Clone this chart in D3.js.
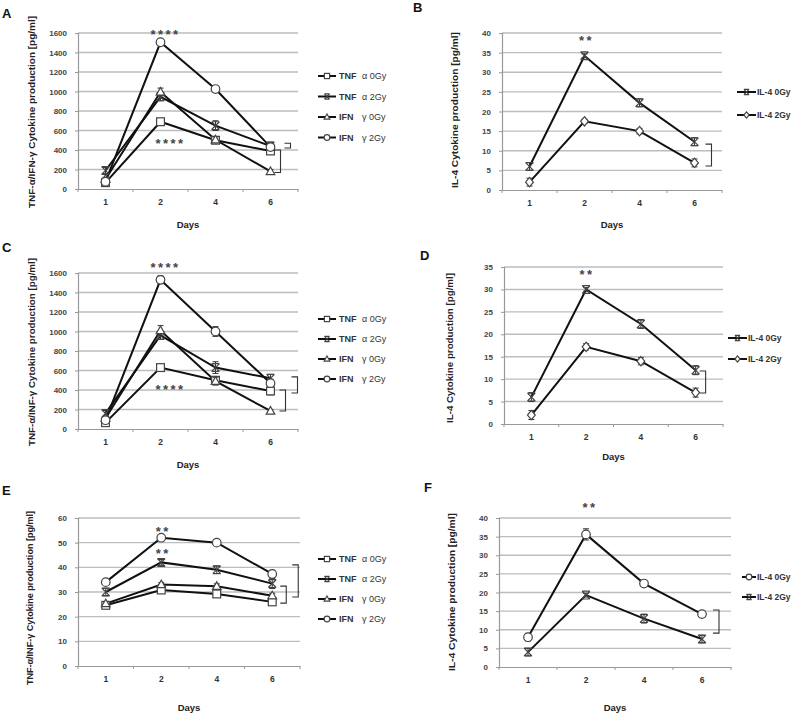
<!DOCTYPE html>
<html><head><meta charset="utf-8">
<script src="https://cdn.jsdelivr.net/npm/d3@7"></script>
<style>
body{margin:0;background:#fff;}
text{font-family:"Liberation Sans",Arial,sans-serif;}
</style></head>
<body><svg id="c" width="800" height="717"></svg>
<script>
// ---------- data ----------
const days = ["1", "2", "4", "6"];

// Panel A (TNF-α / IFN-γ)
const aTnf0 = [65, 690, 500, 390];
const aTnf2 = [190, 945, 650, 440];
const aIfn0 = [100, 995, 505, 180];
const aIfn2 = [75, 1505, 1025, 430];
const aTnf0Err = [20, 25, 30, 30];
const aTnf2Err = [30, 40, 50, 40];
const aIfn0Err = [20, 40, 30, 20];
const aIfn2Err = [20, 30, 30, 30];

// Panel B (IL-4)
const bIl0 = [6, 34.2, 22.2, 12.3];
const bIl2 = [2, 17.5, 15, 6.9];
const bIl0Err = [1, 0.5, 1, 1];
const bIl2Err = [1, 0.5, 0.7, 1];

// Panel C
const cTnf0 = [65, 630, 500, 390];
const cTnf2 = [160, 960, 630, 520];
const cIfn0 = [110, 1010, 490, 185];
const cIfn2 = [90, 1530, 1000, 470];
const cTnf0Err = [20, 25, 30, 40];
const cTnf2Err = [30, 40, 60, 40];
const cIfn0Err = [20, 50, 40, 15];
const cIfn2Err = [20, 40, 50, 40];

// Panel D
const dIl0 = [6, 30, 22.3, 12];
const dIl2 = [2, 17.2, 14, 7];
const dIl0Err = [1, 0.4, 1, 1];
const dIl2Err = [1, 0.7, 0.8, 1];

// Panel E
const eTnf0 = [24.6, 30.8, 29.2, 26];
const eTnf2 = [30, 42, 39, 33.4];
const eIfn0 = [25.3, 33, 32.3, 28.5];
const eIfn2 = [34, 52, 50, 37.3];
const eTnf0Err = [0.8, 0.8, 1, 1];
const eTnf2Err = [1.5, 1.2, 1.5, 2];
const eIfn0Err = [0.8, 0.8, 1, 1];
const eIfn2Err = [0.8, 0.5, 0.5, 1.5];

// Panel F
const fIl0 = [8, 35.6, 22.4, 14.2];
const fIl2 = [4, 19.3, 13, 7.5];
const fIl0Err = [1, 1.5, 0.5, 0.8];
const fIl2Err = [1, 0.5, 1.2, 1];

const tnfTitleA = "TNF-α/IFN-γ Cytokine production [pg/ml]";
const tnfTitleC = "TNF-α/INF-γ Cytokine production [pg/ml]";
const il4Title = "IL-4 Cytokine production [pg/ml]";
const tnfLegend = [["TNF", "α 0Gy"], ["TNF", "α 2Gy"], ["IFN", "γ 0Gy"], ["IFN", "γ 2Gy"]];
const il4Legend = ["IL-4 0Gy", "IL-4 2Gy"];

// ---------- drawing ----------
const svg = d3.select("#c");

function marker(g, type, cx, cy, s) {
  let el;
  if (type === "square") el = g.append("rect").attr("x", cx - s).attr("y", cy - s).attr("width", 2 * s).attr("height", 2 * s);
  else if (type === "circle") el = g.append("circle").attr("cx", cx).attr("cy", cy).attr("r", s * 1.1);
  else if (type === "triangle") el = g.append("path").attr("d", `M${cx},${cy - s * 1.15}L${cx + s * 1.1},${cy + s * 0.8}L${cx - s * 1.1},${cy + s * 0.8}Z`);
  else if (type === "diamond") el = g.append("path").attr("d", `M${cx},${cy - s * 1.2}L${cx + s},${cy}L${cx},${cy + s * 1.2}L${cx - s},${cy}Z`);
  else if (type === "x") el = g.append("path").attr("d", `M${cx - s},${cy - s}L${cx + s},${cy + s}M${cx + s},${cy - s}L${cx - s},${cy + s}M${cx - s},${cy - s}L${cx + s},${cy - s}M${cx - s},${cy + s}L${cx + s},${cy + s}`);
  el.attr("stroke", "#444").attr("stroke-width", 1.2).attr("fill", type === "x" ? "none" : "#fff");
}

function drawPanel(cfg) {
  const g = svg.append("g");
  const x = d3.scaleBand().domain(days).range([cfg.x0, cfg.x1]);
  const y = d3.scaleLinear().domain([0, cfg.yMax]).range([cfg.yBot, cfg.yTop]);
  const ticks = d3.range(0, cfg.yMax + cfg.yStep / 2, cfg.yStep);
  const cx = d => x(d) + x.bandwidth() / 2;

  g.selectAll(".grid").data(ticks.filter(t => t > 0)).join("line")
    .attr("x1", cfg.x0).attr("x2", cfg.x1).attr("y1", d => y(d)).attr("y2", d => y(d))
    .attr("stroke", "#bdbdbd").attr("stroke-width", 1.4);

  const ya = g.append("g").attr("transform", `translate(${cfg.x0},0)`)
    .call(d3.axisLeft(y).tickValues(ticks).tickSize(3).tickPadding(8).tickFormat(d3.format("d")));
  ya.select(".domain").attr("stroke", "#999").attr("stroke-width", 1.2);
  ya.selectAll(".tick line").attr("stroke", "#999");
  ya.selectAll("text").attr("font-size", 8).attr("font-weight", "bold").attr("fill", "#444")
    .style("font-family", "Liberation Sans, Arial, sans-serif");

  const xa = g.append("g").attr("transform", `translate(0,${cfg.yBot})`)
    .call(d3.axisBottom(x).tickSize(0).tickPadding(10));
  xa.select(".domain").attr("stroke", "#999").attr("stroke-width", 1.2);
  xa.selectAll("text").attr("font-size", 8.5).attr("font-weight", "bold").attr("fill", "#333")
    .style("font-family", "Liberation Sans, Arial, sans-serif");
  const bounds = days.map(d => x(d)).concat([cfg.x1]);
  g.selectAll(".xt").data(bounds).join("line")
    .attr("x1", d => d).attr("x2", d => d).attr("y1", cfg.yBot).attr("y2", cfg.yBot + 3)
    .attr("stroke", "#999");

  const line = d3.line().x((v, i) => cx(days[i])).y(v => y(v));
  cfg.series.forEach(s => {
    g.append("path").datum(s.values).attr("d", line).attr("fill", "none")
      .attr("stroke", "#111").attr("stroke-width", 2);
  });
  cfg.series.forEach(s => {
    s.values.forEach((v, i) => {
      const px = cx(days[i]);
      const e = s.errs[i];
      g.append("path").attr("d",
        `M${px},${y(v + e)}L${px},${y(v - e)}M${px - 3},${y(v + e)}L${px + 3},${y(v + e)}M${px - 3},${y(v - e)}L${px + 3},${y(v - e)}`)
        .attr("stroke", "#333").attr("stroke-width", 1).attr("fill", "none");
      marker(g, s.marker, px, y(v), 3.9);
    });
  });

  cfg.stars.forEach(st => {
    g.append("text").attr("x", cx("2") + st.dx).attr("y", y(st.value)).attr("dy", "0.6em")
      .attr("text-anchor", "middle").attr("font-size", 13).attr("font-weight", "bold")
      .attr("letter-spacing", 2.5).attr("fill", "#444").text(st.text);
  });

  cfg.brackets.forEach(b => {
    const bx = cx("6") + b.dx;
    g.append("path").attr("d", `M${bx - 6},${y(b.v1)}L${bx},${y(b.v1)}L${bx},${y(b.v2)}L${bx - 6},${y(b.v2)}`)
      .attr("fill", "none").attr("stroke", "#333").attr("stroke-width", 1.1);
  });

  g.append("text").attr("transform", `translate(${cfg.titleX},${cfg.titleY}) rotate(-90)`)
    .attr("text-anchor", "middle").attr("dy", "0.35em").attr("font-size", 9.5).attr("font-weight", "bold")
    .attr("fill", "#222").attr("textLength", cfg.titleLen).attr("lengthAdjust", "spacingAndGlyphs").text(cfg.title);
  g.append("text").attr("x", (cfg.x0 + cfg.x1) / 2).attr("y", cfg.daysY).attr("text-anchor", "middle")
    .attr("font-size", 9.5).attr("font-weight", "bold").attr("fill", "#222").text("Days");

  g.append("text").attr("x", cfg.labelX).attr("y", cfg.labelY).attr("font-size", 13)
    .attr("font-weight", "bold").attr("fill", "#111").text(cfg.label);

  cfg.series.forEach((s, i) => {
    const ly = cfg.legY + i * cfg.legDy;
    g.append("line").attr("x1", cfg.legX).attr("x2", cfg.legX + cfg.legLen).attr("y1", ly).attr("y2", ly)
      .attr("stroke", "#111").attr("stroke-width", 2);
    marker(g, s.marker, cfg.legX + cfg.legLen / 2, ly, 2.6);
    if (Array.isArray(s.name)) {
      g.append("text").attr("x", cfg.legX + cfg.legLen + 3).attr("y", ly).attr("dy", "0.35em")
        .attr("font-size", 9).attr("font-weight", "bold").attr("fill", "#333").text(s.name[0]);
      g.append("text").attr("x", cfg.legX + cfg.legLen + 26).attr("y", ly).attr("dy", "0.35em")
        .attr("font-size", 9).attr("fill", "#333").text(s.name[1]);
    } else {
      g.append("text").attr("x", cfg.legX + cfg.legLen + 1).attr("y", ly).attr("dy", "0.35em")
        .attr("font-size", 8.5).attr("font-weight", "bold").attr("fill", "#333").text(s.name);
    }
  });
}

function tnfSeries(v0, v1, v2, v3, e0, e1, e2, e3) {
  return [
    {name: tnfLegend[0], values: v0, errs: e0, marker: "square"},
    {name: tnfLegend[1], values: v1, errs: e1, marker: "x"},
    {name: tnfLegend[2], values: v2, errs: e2, marker: "triangle"},
    {name: tnfLegend[3], values: v3, errs: e3, marker: "circle"}
  ];
}

drawPanel({label: "A", labelX: 2, labelY: 18, x0: 78, x1: 298, yTop: 33, yBot: 189, yMax: 1600, yStep: 200,
  title: tnfTitleA, titleX: 32, titleY: 112, titleLen: 192, daysY: 228,
  series: tnfSeries(aTnf0, aTnf2, aIfn0, aIfn2, aTnf0Err, aTnf2Err, aIfn0Err, aIfn2Err),
  stars: [{text: "****", value: 1615, dx: 5}, {text: "****", value: 500, dx: 10}],
  brackets: [{v1: 470, v2: 420, dx: 20}, {v1: 400, v2: 170, dx: 10}],
  legX: 318, legLen: 18, legY: 76, legDy: 20.5});

drawPanel({label: "B", labelX: 413, labelY: 12, x0: 502, x1: 722, yTop: 33, yBot: 190, yMax: 40, yStep: 5,
  title: il4Title, titleX: 455, titleY: 110, titleLen: 156, daysY: 228,
  series: [{name: il4Legend[0], values: bIl0, errs: bIl0Err, marker: "x"},
           {name: il4Legend[1], values: bIl2, errs: bIl2Err, marker: "diamond"}],
  stars: [{text: "**", value: 39, dx: 2}], brackets: [{v1: 11.7, v2: 6.1, dx: 17}],
  legX: 737, legLen: 19, legY: 92, legDy: 23});

drawPanel({label: "C", labelX: 2, labelY: 252, x0: 78, x1: 298, yTop: 273, yBot: 429, yMax: 1600, yStep: 200,
  title: tnfTitleC, titleX: 32, titleY: 352, titleLen: 188, daysY: 468,
  series: tnfSeries(cTnf0, cTnf2, cIfn0, cIfn2, cTnf0Err, cTnf2Err, cIfn0Err, cIfn2Err),
  stars: [{text: "****", value: 1690, dx: 5}, {text: "****", value: 440, dx: 10}],
  brackets: [{v1: 535, v2: 370, dx: 27}, {v1: 400, v2: 185, dx: 15}],
  legX: 318, legLen: 18, legY: 319, legDy: 20});

drawPanel({label: "D", labelX: 420, labelY: 260, x0: 504, x1: 723, yTop: 267, yBot: 424, yMax: 35, yStep: 5,
  title: il4Title, titleX: 450, titleY: 348, titleLen: 150, daysY: 460,
  series: [{name: il4Legend[0], values: dIl0, errs: dIl0Err, marker: "x"},
           {name: il4Legend[1], values: dIl2, errs: dIl2Err, marker: "diamond"}],
  stars: [{text: "**", value: 34, dx: 1}], brackets: [{v1: 11.8, v2: 6.9, dx: 10}],
  legX: 728, legLen: 19, legY: 338, legDy: 21});

drawPanel({label: "E", labelX: 2, labelY: 495, x0: 78, x1: 300, yTop: 518, yBot: 666, yMax: 60, yStep: 10,
  title: tnfTitleC, titleX: 30, titleY: 598, titleLen: 174, daysY: 711,
  series: tnfSeries(eTnf0, eTnf2, eIfn0, eIfn2, eTnf0Err, eTnf2Err, eIfn0Err, eIfn2Err),
  stars: [{text: "**", value: 55.8, dx: 2}, {text: "**", value: 46.8, dx: 2}],
  brackets: [{v1: 41, v2: 28, dx: 26}, {v1: 32.4, v2: 25.5, dx: 14}],
  legX: 318, legLen: 18, legY: 559, legDy: 20});

drawPanel({label: "F", labelX: 424, labelY: 492, x0: 499, x1: 731, yTop: 518, yBot: 667, yMax: 40, yStep: 5,
  title: il4Title, titleX: 452, titleY: 592, titleLen: 158, daysY: 711,
  series: [{name: il4Legend[0], values: fIl0, errs: fIl0Err, marker: "circle"},
           {name: il4Legend[1], values: fIl2, errs: fIl2Err, marker: "x"}],
  stars: [{text: "**", value: 43.8, dx: 4}], brackets: [{v1: 15.3, v2: 9.1, dx: 17}],
  legX: 742, legLen: 14, legY: 577, legDy: 20});
</script></body></html>
